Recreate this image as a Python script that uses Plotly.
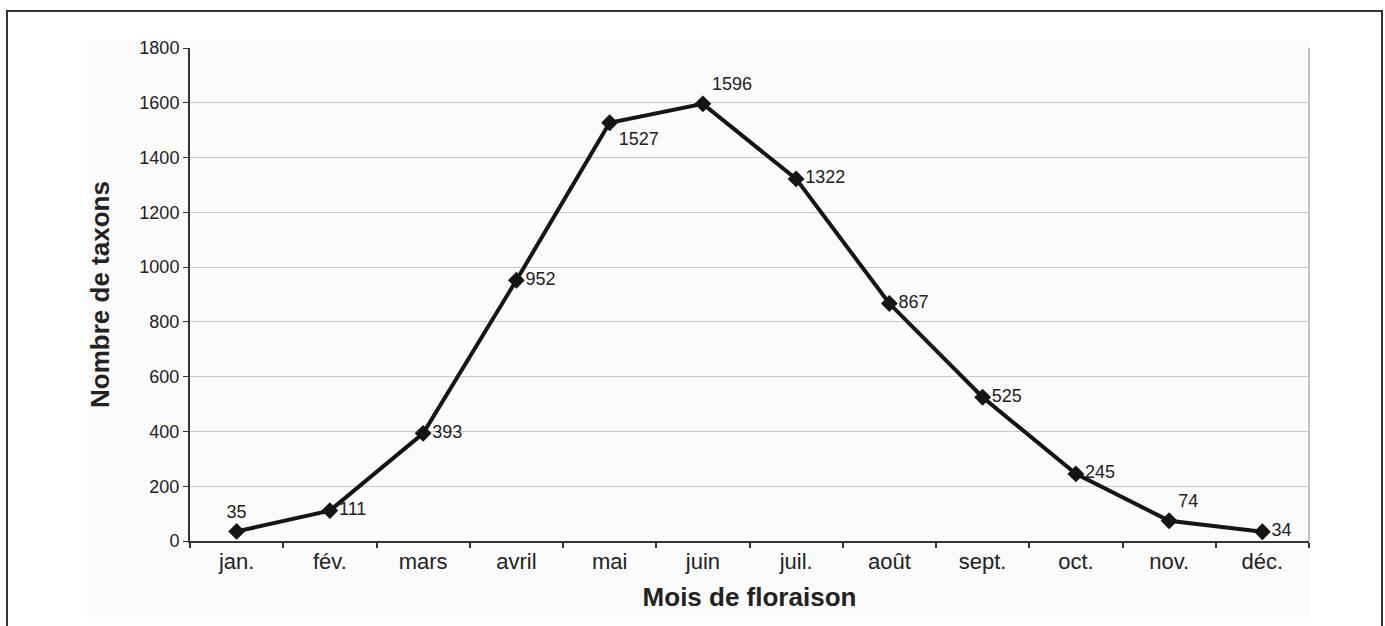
import plotly.graph_objects as go

months = ["jan.", "fév.", "mars", "avril", "mai", "juin", "juil.", "août", "sept.", "oct.", "nov.", "déc."]
taxons = [35, 111, 393, 952, 1527, 1596, 1322, 867, 525, 245, 74, 34]
label_pos = ["top center", "middle right", "middle right", "middle right", "bottom right", "top right",
             "middle right", "middle right", "middle right", "middle right", "top right", "middle right"]
y_ticks = [0, 200, 400, 600, 800, 1000, 1200, 1400, 1600, 1800]

W, H = 1385, 626
ml, mt = 190, 48
pw, ph = 1119, 493
mr = W - ml - pw
mb = H - mt - ph

def px_x(p):
    return (p - ml) / pw

def px_y(p):
    return (mt + ph - p) / ph

fig = go.Figure()
fig.add_trace(go.Scatter(
    x=months, y=taxons,
    mode="lines+markers+text",
    line=dict(color="#151515", width=4),
    marker=dict(symbol="diamond", size=13, color="#151515"),
    text=[str(v) for v in taxons],
    textposition=label_pos,
    textfont=dict(family="Liberation Sans, Arial, sans-serif", size=18, color="#222222"),
    cliponaxis=False,
    showlegend=False,
))

fig.update_layout(
    width=W, height=H,
    margin=dict(l=ml, r=mr, t=mt, b=mb),
    paper_bgcolor="white",
    plot_bgcolor="rgba(0,0,0,0)",
    font=dict(family="Liberation Sans, Arial, sans-serif", color="#222222"),
    xaxis=dict(
        type="category",
        range=[-0.5, len(months) - 0.5],
        tickson="boundaries",
        ticks="outside", ticklen=5, tickcolor="#333333", tickwidth=2,
        showgrid=False,
        showline=True, linecolor="#333333", linewidth=2,
        tickfont=dict(size=22, color="#222222"),
        title=dict(text="<b>Mois de floraison</b>", font=dict(size=26, color="#222222"), standoff=14),
        zeroline=False,
    ),
    yaxis=dict(
        range=[0, 1800],
        tickvals=y_ticks,
        ticks="outside", ticklen=5, tickcolor="#333333", tickwidth=1,
        showgrid=True, gridcolor="#c8c8c8", gridwidth=1,
        showline=True, linecolor="#333333", linewidth=2,
        tickfont=dict(size=18, color="#222222"),
        title=dict(text="<b>Nombre de taxons</b>", font=dict(size=26, color="#222222"), standoff=22),
        zeroline=False,
    ),
    shapes=[
        dict(type="rect", xref="paper", yref="paper", layer="below",
             x0=px_x(87), x1=px_x(1310), y0=px_y(617), y1=px_y(40),
             fillcolor="#fbfbfb", line=dict(width=0)),
        dict(type="line", xref="paper", yref="paper", layer="below",
             x0=1, x1=1, y0=0, y1=1, line=dict(color="#b0b0b0", width=1.5)),
        dict(type="rect", xref="paper", yref="paper", layer="above",
             x0=px_x(7), x1=px_x(1382), y0=px_y(640), y1=px_y(11),
             fillcolor="rgba(0,0,0,0)", line=dict(color="#333333", width=2)),
    ],
)

fig.write_html("out.html", config={"displayModeBar": False},
               post_script="document.body.style.margin='0';document.body.style.overflow='hidden';")
